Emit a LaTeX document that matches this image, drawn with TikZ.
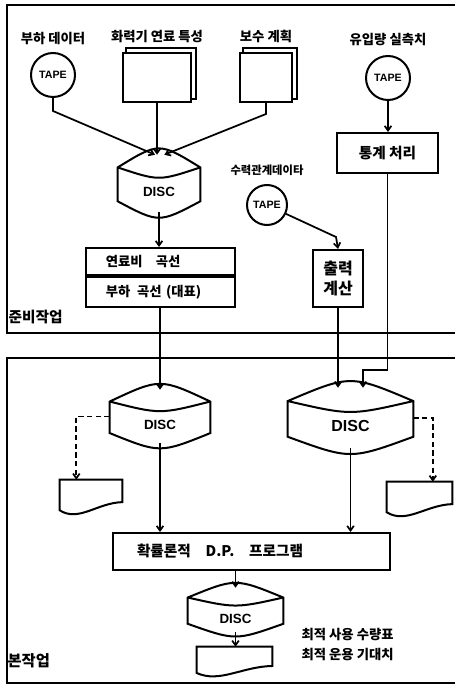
\documentclass[tikz,border=0pt]{standalone}
\usepackage{fontspec}
\setsansfont{Liberation Sans}
\newfontfamily\kr{Noto Sans CJK KR}
\usetikzlibrary{arrows.meta,positioning,calc}

\newcommand{\discline}[1]{%
  \draw[outline] let \p1=(#1.north west), \p2=(#1.south east),
      \n1={\y1-\y2} in
    (\x1,\y1-0.22*\n1) .. controls ({0.5*\x1+0.5*\x2},\y1+0.22*\n1) .. (\x2,\y1-0.22*\n1)
    -- (\x2,\y1-0.81*\n1) .. controls ({0.5*\x1+0.5*\x2},\y2-0.19*\n1) .. (\x1,\y1-0.81*\n1)
    -- cycle
    (\x1,\y1-0.22*\n1) .. controls ({0.5*\x1+0.5*\x2},\y1-0.46*\n1) .. (\x2,\y1-0.22*\n1);}

\newcommand{\docline}[1]{%
  \draw[outline] let \p1=(#1.north west), \p2=(#1.south east),
      \n1={\y1-\y2}, \n2={\x2-\x1} in
    (\x1,\y1) -- (\x1,\y2+0.14*\n1)
    .. controls ({\x1+0.3*\n2},\y2-0.2*\n1) and ({\x1+0.6*\n2},\y2+0.35*\n1) .. (\x2,\y2+0.37*\n1)
    -- (\x2,\y1) -- cycle;}

\newcommand{\backsheet}[1]{%
  \draw[line width=1pt] ([xshift=3pt]#1.north west) -- ++(0,-4)
    -| ($(#1.south east)+(4,-4)$) -- ++(-4,0);}

\begin{document}
\begin{tikzpicture}[
    x=0.75pt, y=-0.75pt,
    outline/.style={line width=1.5pt},
    conn/.style={line width=1.3pt, -{Straight Barb[length=3.5pt,width=5pt]}},
    dashconn/.style={conn, dash pattern=on 4pt off 2.5pt},
    tape/.style={circle, draw, outline, minimum size=33pt, inner sep=0pt,
                 font=\sffamily\bfseries\fontsize{8}{9}\selectfont},
    sheet/.style={rectangle, draw, outline, inner sep=0pt},
    box/.style={rectangle, draw, outline, inner sep=0pt, align=center,
                font=\kr\bfseries\fontsize{11}{13}\selectfont},
    disc/.style={rectangle, inner sep=0pt, text height=20pt, text depth=0pt,
                 font=\sffamily\bfseries\fontsize{10}{12}\selectfont},
    paper/.style={rectangle, inner sep=0pt},
    lbl/.style={inner sep=1pt, font=\kr\bfseries\fontsize{10}{12}\selectfont},
]
    \useasboundingbox[fill=white] (0,0) rectangle (455,691);
    \draw[outline] (455,5) -- (7,5) -- (7,333) -- (455,333);
    \draw[outline] (455,358) -- (7,358) -- (7,683) -- (455,683);

    \node[tape] (tapeLoad) at (53,75) {TAPE};
    \node[lbl, above=4pt of tapeLoad] (loadLbl) {부하 데이터};
    \node[sheet, minimum width=51pt, minimum height=36.75pt] (fuelSheet) at (157,77.5) {};
    \node[lbl, above=6pt of fuelSheet] (fuelLbl) {화력기 연료 특성};
    \node[sheet, minimum width=39pt, minimum height=36.75pt] (maintSheet) at (266,77.5) {};
    \node[lbl, above=6pt of maintSheet] (maintLbl) {보수 계획};
    \node[tape] (tapeInflow) at (388,78) {TAPE};
    \node[lbl, above=6pt of tapeInflow] (inflowLbl) {유입량 실측치};
    \backsheet{fuelSheet}
    \backsheet{maintSheet}

    \node[disc, minimum width=61.5pt, minimum height=42.75pt] (discA) at (159,183.5) {DISC};
    \node[box, minimum width=111.75pt, minimum height=20.25pt, text width=82pt,
          align=left, font=\kr\bfseries\fontsize{10}{12}\selectfont]
         (fuelCurve) at (160.5,261.5) {연료비\quad 곡선};
    \node[box, minimum width=111.75pt, minimum height=22.5pt, text width=82pt,
          align=left, font=\kr\bfseries\fontsize{10}{12}\selectfont, below=0pt of fuelCurve]
         (loadCurve) {부하\enspace 곡선 (대표)};

    \node[box, minimum width=75.75pt, minimum height=30pt] (statBox) at (387.5,153) {통계 처리};
    \node[tape, minimum size=30pt] (tapeHydro) at (267,205) {TAPE};
    \node[lbl, above=5pt of tapeHydro, font=\kr\bfseries\fontsize{8.5}{10}\selectfont]
         (hydroLbl) {수력관계데이타};
    \node[box, minimum width=37.5pt, minimum height=42.75pt,
          font=\kr\bfseries\fontsize{12}{15}\selectfont] (outBox) at (338,278.5) {출력\\계산};

    \node[disc, minimum width=75pt, minimum height=39.75pt] (discB) at (160,416.5) {DISC};
    \node[disc, minimum width=93.75pt, minimum height=45pt,
          font=\sffamily\bfseries\fontsize{12}{14}\selectfont] (discC) at (350.5,418) {DISC};
    \node[paper, minimum width=46.5pt, minimum height=26.25pt] (docC) at (91,497.5) {};
    \node[paper, minimum width=48.75pt, minimum height=26.25pt] (docD) at (419.5,499.5) {};

    \node[box, minimum width=207.75pt, minimum height=27.75pt, text width=171.75pt,
          align=left] (dpBox) at (251.5,551.5) {확률론적\quad D.P.\quad 프로그램};
    \node[disc, minimum width=71.25pt, minimum height=33pt] (discD) at (235.5,610) {DISC};
    \node[paper, minimum width=56.25pt, minimum height=22.5pt] (docE) at (234.5,662) {};
    \node[lbl, anchor=west, align=left, font=\kr\bfseries\fontsize{10}{15}\selectfont]
         (result) at (300,645) {최적 사용 수량표\\최적 운용 기대치};

    \node[lbl, anchor=west, font=\kr\bfseries\fontsize{11}{13}\selectfont] (prepLbl) at (7,317) {준비작업};
    \node[lbl, anchor=west, font=\kr\bfseries\fontsize{11.5}{13}\selectfont] (mainLbl) at (6,661) {본작업};

    \discline{discA}
    \discline{discB}
    \discline{discC}
    \discline{discD}
    \docline{docC}
    \docline{docD}
    \docline{docE}

    \draw[conn] (tapeLoad.south) -- ++(0,13) -- ([xshift=-3pt]discA.north);
    \draw[conn] (fuelSheet.south) -- (fuelSheet.south |- discA.north);
    \draw[conn] (maintSheet.south) -- ++(0,11) -- ([xshift=4pt]discA.north);
    \draw[conn] (discA.south) -- (discA.south |- fuelCurve.north);
    \draw[conn] (discB.north |- loadCurve.south) -- (discB.north);
    \draw[conn] (tapeInflow.south) -- (tapeInflow.south |- statBox.north);
    \coordinate (statTurn) at (363,370);
    \draw[conn] (statBox.south) |- (statTurn) -- (statTurn |- discC.north);
    \draw[conn] (tapeHydro.-25) -- ($(outBox.north)+(-2,-12)$) -- (outBox.north);
    \draw[conn] (outBox.south) -- (outBox.south |- discC.north);
    \draw[dashconn] (discB.west) -| ([xshift=-11pt]docC.north);
    \draw[dashconn] (discC.east) -| ([xshift=10pt]docD.north);
    \draw[conn] (discB.south) -- (discB.south |- dpBox.north);
    \draw[conn] (discC.south) -- (discC.south |- dpBox.north);
    \draw[conn] (discD.north |- dpBox.south) -- (discD.north);
    \draw[conn] (discD.south) -- (discD.south |- docE.north);
\end{tikzpicture}
\end{document}
